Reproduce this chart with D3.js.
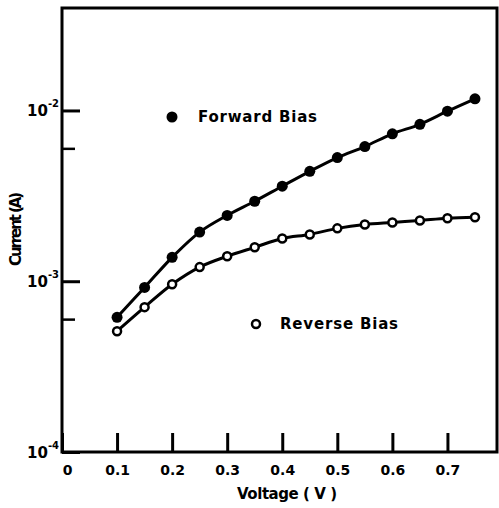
<!DOCTYPE html>
<html>
<head>
<meta charset="utf-8">
<script src="https://cdn.jsdelivr.net/npm/d3@7"></script>
<style>
    body { margin: 0; background: #fff; }
    text { font-family: "DejaVu Sans", sans-serif; font-weight: bold; fill: #000; }
</style>
</head>
<body>
<svg class="chart"></svg>
<script>
const width = 499;
const height = 508;

// data
const voltage = [0.1, 0.15, 0.2, 0.25, 0.3, 0.35, 0.4, 0.45, 0.5, 0.55, 0.6, 0.65, 0.7, 0.75];
const forwardCurrent = [6.15e-4, 9.2e-4, 1.38e-3, 1.94e-3, 2.43e-3, 2.94e-3, 3.6e-3, 4.4e-3, 5.3e-3, 6.15e-3, 7.3e-3, 8.3e-3, 9.9e-3, 1.17e-2];
const reverseCurrent = [5.1e-4, 7.05e-4, 9.6e-4, 1.21e-3, 1.4e-3, 1.58e-3, 1.78e-3, 1.88e-3, 2.04e-3, 2.15e-3, 2.21e-3, 2.27e-3, 2.34e-3, 2.37e-3];
const xTicks = [0, 0.1, 0.2, 0.3, 0.4, 0.5, 0.6, 0.7];
const yTicks = [1e-4, 1e-3, 1e-2];
const yTickExponents = ['-4', '-3', '-2'];
const yMinorTicks = [6e-4, 6e-3];

const margin = {left: 62, top: 8, right: 2, bottom: 56};

const x = d3.scaleLinear()
            .domain([0, 0.79])
            .range([margin.left, width - margin.right]);

const y = d3.scaleLog()
            .domain([1e-4, Math.pow(10, -1.4)])
            .range([height - margin.bottom, margin.top]);

const svg = d3.select('.chart')
              .attr('width', width)
              .attr('height', height);

// frame
svg.append('rect')
   .attr('x', x.range()[0])
   .attr('y', y.range()[1])
   .attr('width', x.range()[1] - x.range()[0])
   .attr('height', y.range()[0] - y.range()[1])
   .attr('fill', 'none')
   .attr('stroke', '#000')
   .attr('stroke-width', 3);

// x axis, ticks pointing inward
const xAxis = svg.append('g')
                 .attr('transform', 'translate(0,' + y.range()[0] + ')')
                 .call(d3.axisBottom(x)
                         .tickValues(xTicks)
                         .tickSizeInner(-19)
                         .tickSizeOuter(0)
                         .tickPadding(13)
                         .tickFormat(function(d) {
                             return d === 0 ? '0' : d3.format('.1f')(d);
                         }));
xAxis.select('.domain').remove();
xAxis.selectAll('line').attr('stroke-width', 3);
xAxis.selectAll('text')
     .attr('font-size', 14)
     .attr('font-family', '"DejaVu Sans", sans-serif')
     .attr('font-weight', 'bold');
xAxis.selectAll('.tick')
     .filter(function(d) { return d === 0; })
     .select('text')
     .attr('dx', 5);

// y axis, decades
const yAxis = svg.append('g')
                 .attr('transform', 'translate(' + x.range()[0] + ',0)')
                 .call(d3.axisLeft(y)
                         .tickValues(yTicks)
                         .tickSizeInner(-18)
                         .tickSizeOuter(0)
                         .tickFormat(''));
yAxis.select('.domain').remove();
yAxis.selectAll('line').attr('stroke-width', 3);

// minor ticks
const yMinor = svg.append('g')
                  .attr('transform', 'translate(' + x.range()[0] + ',0)')
                  .call(d3.axisLeft(y)
                          .tickValues(yMinorTicks)
                          .tickSizeInner(-13)
                          .tickSizeOuter(0)
                          .tickFormat(''));
yMinor.select('.domain').remove();
yMinor.selectAll('line').attr('stroke-width', 2.5);

// decade labels 10^n
const yLabel = svg.append('g')
                  .selectAll('text')
                  .data(yTicks)
                  .join('text')
                  .attr('x', 27)
                  .attr('y', function(d) { return y(d) + 6; })
                  .attr('font-size', 15);
yLabel.append('tspan').text('10');
yLabel.append('tspan')
      .attr('dx', 0)
      .attr('dy', -9)
      .attr('font-size', 10)
      .text(function(d, i) { return yTickExponents[i]; });

// axis titles
svg.append('text')
   .attr('x', 287)
   .attr('y', 499)
   .attr('text-anchor', 'middle')
   .attr('font-size', 15)
   .attr('textLength', 100)
   .text('Voltage ( V )');

svg.append('text')
   .attr('transform', 'translate(21,229) rotate(-90)')
   .attr('text-anchor', 'middle')
   .attr('font-size', 15)
   .attr('textLength', 74)
   .text('Current (A)');

// curves
const line = d3.line()
               .x(function(d) { return x(d[0]); })
               .y(function(d) { return y(d[1]); })
               .curve(d3.curveCatmullRom.alpha(0.5));

const forward = d3.zip(voltage, forwardCurrent);
const reverse = d3.zip(voltage, reverseCurrent);

svg.append('path')
   .datum(forward)
   .attr('d', line)
   .attr('fill', 'none')
   .attr('stroke', '#000')
   .attr('stroke-width', 3);

svg.append('path')
   .datum(reverse)
   .attr('d', line)
   .attr('fill', 'none')
   .attr('stroke', '#000')
   .attr('stroke-width', 3);

// markers
svg.append('g')
   .selectAll('circle')
   .data(forward)
   .join('circle')
   .attr('cx', function(d) { return x(d[0]); })
   .attr('cy', function(d) { return y(d[1]); })
   .attr('r', 5.5)
   .attr('fill', '#000');

svg.append('g')
   .selectAll('circle')
   .data(reverse)
   .join('circle')
   .attr('cx', function(d) { return x(d[0]); })
   .attr('cy', function(d) { return y(d[1]); })
   .attr('r', 4)
   .attr('fill', '#fff')
   .attr('stroke', '#000')
   .attr('stroke-width', 2.5);

// legend
svg.append('circle')
   .attr('cx', 172)
   .attr('cy', 117)
   .attr('r', 5.5)
   .attr('fill', '#000');
svg.append('text')
   .attr('x', 198)
   .attr('y', 122)
   .attr('font-size', 15)
   .attr('textLength', 119)
   .text('Forward Bias');

svg.append('circle')
   .attr('cx', 256)
   .attr('cy', 324)
   .attr('r', 4)
   .attr('fill', '#fff')
   .attr('stroke', '#000')
   .attr('stroke-width', 2.5);
svg.append('text')
   .attr('x', 280)
   .attr('y', 329)
   .attr('font-size', 15)
   .attr('textLength', 118)
   .text('Reverse Bias');
</script>
</body>
</html>
